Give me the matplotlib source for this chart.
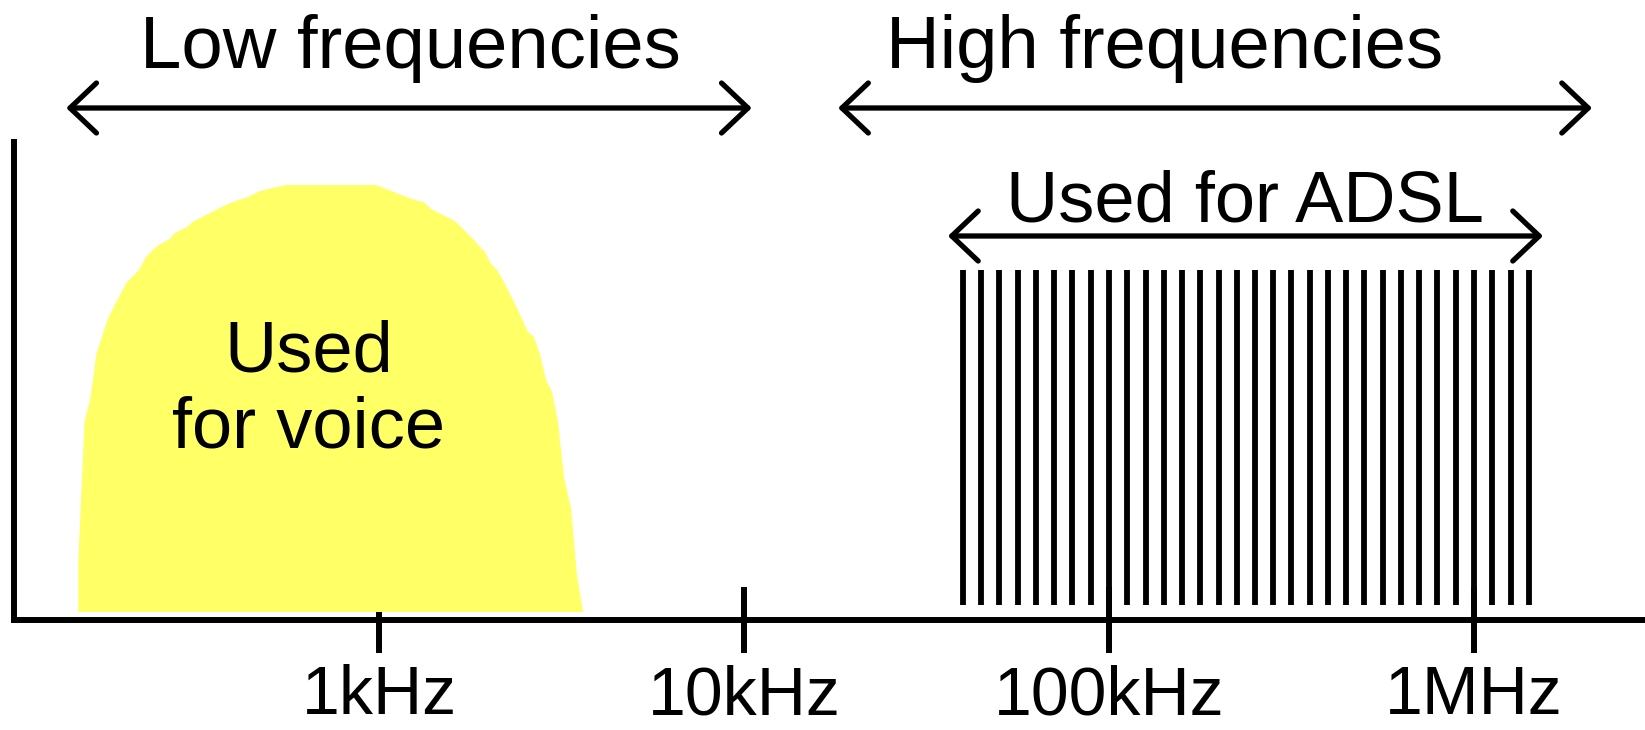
import matplotlib
matplotlib.use('Agg')
import matplotlib.pyplot as plt
from matplotlib.ticker import NullLocator

plt.rcParams['font.family'] = ['Liberation Sans', 'DejaVu Sans']

# frequency axis (Hz)
tick_hz = [1e3, 1e4, 1e5, 1e6]
tick_labels = ['1kHz', '10kHz', '100kHz', '1MHz']

# voice band outline (Hz, level)
voice_hz = [150, 150, 156, 162, 168, 174, 181, 188, 196, 204,
            212, 220, 229, 237, 247, 267, 276, 298, 311, 336,
            362, 391, 438, 472, 556, 982, 1186, 1337, 1388, 1497,
            1614, 1678, 1742, 1811, 1881, 1952, 2028, 2106, 2200, 2284,
            2372, 2464, 2560, 2659, 2762, 2869, 2979, 3093, 3212, 3357,
            3486, 3622]
voice_level = [8, 58, 198, 222, 265, 283, 301, 314, 326, 338,
               344, 350, 362, 368, 374, 381, 387, 393, 399, 405,
               411, 417, 423, 429, 435, 435, 423, 417, 411, 405,
               399, 393, 387, 381, 374, 368, 356, 350, 338, 326,
               314, 301, 288, 283, 265, 240, 228, 198, 143, 112,
               45, 8]

# ADSL carriers (kHz)
adsl_khz = [39.8, 44.7, 50.1, 56.2, 63.1, 70.8, 79.4, 89.1, 100, 112,
            126, 141, 158, 178, 200, 224, 251, 282, 316, 355,
            398, 447, 501, 562, 631, 708, 794, 891, 1000, 1122,
            1259, 1413]
adsl_bottom = 15
adsl_top = 350

# range arrows: (start Hz, end Hz, level)
low_range = (139, 10.5e3, 512)
high_range = (18.1e3, 2.105e6, 512)
adsl_range = (36.2e3, 1.545e6, 384)

fig = plt.figure(figsize=(16.45, 7.30), dpi=100)
ax = fig.add_axes([14 / 1645, 110 / 730, 1 - 14 / 1645, 620 / 730])
ax.set_xscale('log')
ax.set_xlim(100, 2.94e6)
ax.set_ylim(0, 620)

ax.fill(voice_hz, voice_level, color='#ffff66', lw=0, zorder=2)
ax.vlines([f * 1e3 for f in adsl_khz], adsl_bottom, adsl_top,
          color='black', lw=4.2, zorder=2)

for x0, x1, lev in [low_range, high_range, adsl_range]:
    ax.annotate('', xy=(x1, lev), xytext=(x0, lev), annotation_clip=False,
                arrowprops=dict(arrowstyle='<->,head_length=19,head_width=18',
                                lw=3.8, color='black', shrinkA=0, shrinkB=0,
                                mutation_scale=1))

ax.text(1216, 552, 'Low frequencies', ha='center', va='baseline', fontsize=53.5)
ax.text(142e3, 552, 'High frequencies', ha='center', va='baseline', fontsize=53.5)
ax.text(236e3, 399, 'Used for ADSL', ha='center', va='baseline', fontsize=52)
ax.text(643, 248, 'Used', ha='center', va='baseline', fontsize=52, zorder=3)
ax.text(643, 173, 'for voice', ha='center', va='baseline', fontsize=52, zorder=3)

for s in ['top', 'right']:
    ax.spines[s].set_visible(False)
for s in ['left', 'bottom']:
    ax.spines[s].set_linewidth(4.3)
    ax.spines[s].set_capstyle('projecting')
ax.spines['left'].set_bounds(0, 478)

ax.set_xticks(tick_hz, labels=tick_labels)
ax.xaxis.set_minor_locator(NullLocator())
ax.tick_params(axis='x', direction='inout', length=47.5, width=4.3,
               pad=8, labelsize=49)
ax.set_yticks([])

fig.savefig('out.png', dpi=100)
